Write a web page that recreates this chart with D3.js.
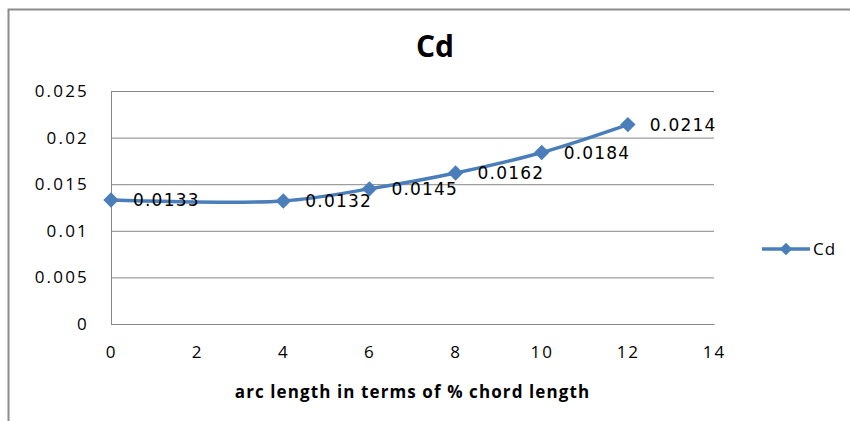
<!DOCTYPE html>
<html lang="en">
<head>
<meta charset="UTF-8">
<title>Cd</title>
<style>
  body { margin: 0; background: #fff; }
  text { fill: #000; }
</style>
</head>
<body>
<script src="https://d3js.org/d3.v7.min.js"></script>
<div id="chart"></div>
<script>
// data
const arcLength = [0, 4, 6, 8, 10, 12]
const cdValues = [0.0133, 0.0132, 0.0145, 0.0162, 0.0184, 0.0214]
const xTicks = [0, 2, 4, 6, 8, 10, 12, 14]
const yTicks = [0, 0.005, 0.01, 0.015, 0.02, 0.025]
const seriesName = "Cd"

const W = 850, H = 421
const MARGIN = { LEFT: 111, RIGHT: 136, TOP: 91, BOTTOM: 97 }
const WIDTH = W - MARGIN.LEFT - MARGIN.RIGHT
const HEIGHT = H - MARGIN.TOP - MARGIN.BOTTOM
const BLUE = "#4a7ebb"
const GRID = "#878787"

const svg = d3.select("#chart").append("svg")
    .attr("width", W)
    .attr("height", H)

// outer chart border (runs off the right and bottom)
svg.append("rect")
    .attr("x", 8.5).attr("y", 9.5)
    .attr("width", W + 20).attr("height", H + 20)
    .attr("fill", "none")
    .attr("stroke", "#8c8c8c")
    .attr("stroke-width", 2)

svg.append("text")
    .attr("x", 435).attr("y", 57)
    .attr("text-anchor", "middle")
    .style("font-family", "'Open Sans', sans-serif")
    .style("font-weight", "bold")
    .style("font-size", "30px")
    .text("Cd")

const g = svg.append("g")
    .attr("transform", `translate(${MARGIN.LEFT},${MARGIN.TOP})`)

const x = d3.scaleLinear().domain([0, 14]).range([0, WIDTH])
const y = d3.scaleLinear().domain([0, 0.025]).range([HEIGHT, 0])

// horizontal gridlines
g.append("g")
    .call(d3.axisLeft(y).tickValues(yTicks).tickSize(-WIDTH).tickFormat(""))
    .call(a => a.select(".domain").remove())
    .selectAll("line")
    .attr("stroke", GRID)

// y axis
const yAxis = g.append("g")
    .call(d3.axisLeft(y).tickValues(yTicks).tickSize(0).tickPadding(22)
        .tickFormat(d => d === 0 ? "0" : d3.format("")(+d.toFixed(3))))
yAxis.select(".domain").attr("stroke", GRID)
yAxis.selectAll("text")
    .style("font-family", "'Open Sans', sans-serif")
    .style("font-size", "17px")
    .style("letter-spacing", "2.2px")

// x axis
const xAxis = g.append("g")
    .attr("transform", `translate(0,${HEIGHT})`)
    .call(d3.axisBottom(x).tickValues(xTicks).tickSize(0).tickPadding(22))
xAxis.select(".domain").attr("stroke", GRID)
xAxis.selectAll("text")
    .style("font-family", "'Open Sans', sans-serif")
    .style("font-size", "17px")
    .style("letter-spacing", "2px")

g.append("text")
    .attr("x", WIDTH / 2).attr("y", HEIGHT + 74)
    .attr("text-anchor", "middle")
    .style("font-family", "'Open Sans', sans-serif")
    .style("font-weight", "bold")
    .style("font-size", "17px")
    .style("letter-spacing", "1.1px")
    .text("arc length in terms of % chord length")

const points = arcLength.map((a, i) => ({ a, v: cdValues[i] }))

const line = d3.line()
    .x(d => x(d.a))
    .y(d => y(d.v))
    .curve(d3.curveCatmullRom.alpha(0.5))

g.append("path")
    .datum(points)
    .attr("d", line)
    .attr("fill", "none")
    .attr("stroke", BLUE)
    .attr("stroke-width", 3.5)

const diamond = d3.symbol().type(d3.symbolDiamond2).size(150)

g.selectAll(".pt")
    .data(points)
    .join("path")
    .attr("class", "pt")
    .attr("transform", d => `translate(${x(d.a)},${y(d.v)})`)
    .attr("d", diamond)
    .attr("fill", BLUE)

g.selectAll(".lbl")
    .data(points)
    .join("text")
    .attr("class", "lbl")
    .attr("x", d => x(d.a) + 22)
    .attr("y", d => y(d.v))
    .attr("dy", "0.36em")
    .style("font-family", "'DejaVu Sans', sans-serif")
    .style("font-size", "17px")
    .style("letter-spacing", "1.2px")
    .text(d => d.v)

// legend
const lg = svg.append("g").attr("transform", "translate(762,249)")
lg.append("line")
    .attr("x1", 0).attr("x2", 48)
    .attr("stroke", BLUE).attr("stroke-width", 3.5)
lg.append("path")
    .attr("transform", "translate(24,0)")
    .attr("d", d3.symbol().type(d3.symbolDiamond2).size(100))
    .attr("fill", BLUE)
lg.append("text")
    .attr("x", 51).attr("dy", "0.36em")
    .style("font-family", "'Open Sans', sans-serif")
    .style("font-size", "17px")
    .style("letter-spacing", "1px")
    .text(seriesName)
</script>
</body>
</html>
